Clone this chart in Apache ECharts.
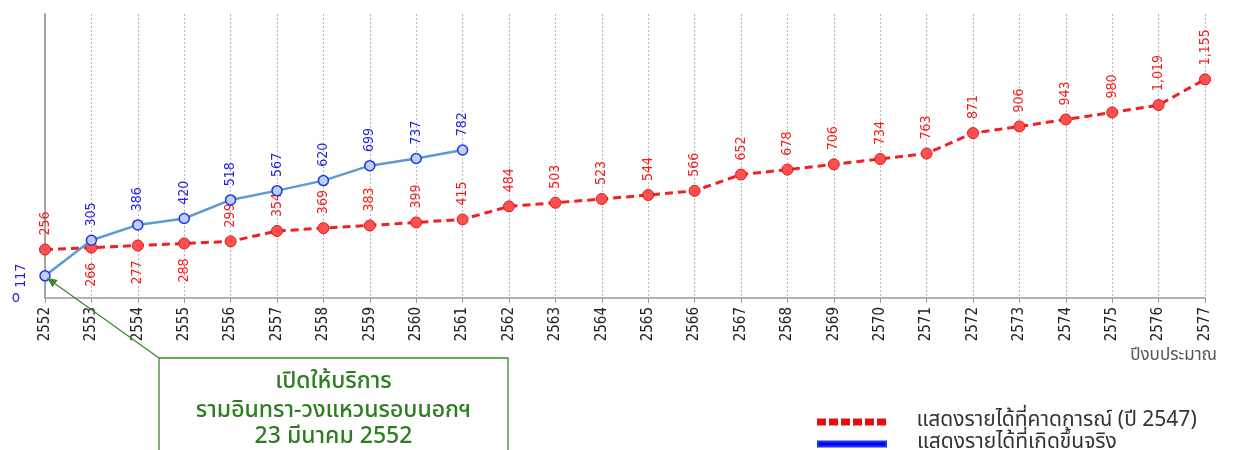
<!DOCTYPE html>
<html>
<head>
<meta charset="utf-8">
<script src="https://cdn.jsdelivr.net/npm/echarts@6/dist/echarts.min.js"></script>
<style>html,body{margin:0;padding:0;background:#fff}#c{width:1257px;height:450px}</style>
</head>
<body>
<div id="c"></div>
<script>
const years = ['2552','2553','2554','2555','2556','2557','2558','2559','2560','2561','2562','2563','2564','2565','2566','2567','2568','2569','2570','2571','2572','2573','2574','2575','2576','2577'];
const forecast = [256,266,277,288,299,354,369,383,399,415,484,503,523,544,566,652,678,706,734,763,871,906,943,980,1019,1155];
const actual = [117,305,386,420,518,567,620,699,737,782,null,null,null,null,null,null,null,null,null,null,null,null,null,null,null,null];
const forecastName = 'แสดงรายได้ที่คาดการณ์ (ปี 2547)';
const actualName = 'แสดงรายได้ที่เกิดขึ้นจริง';
const xAxisTitle = 'ปีงบประมาณ';
const noteLines = ['เปิดให้บริการ','รามอินทรา-วงแหวนรอบนอกฯ','23 มีนาคม 2552'];
const forecastLabelBelow = ['2553','2554','2555'];
const actualLabelLeft = ['2552'];

const NARROW = '"DejaVu Sans Condensed","Liberation Sans Narrow",sans-serif';
const THAI = '"Noto Sans Thai","Noto Sans","Tahoma",sans-serif';
const fmt = v => Number(v).toLocaleString('en-US');

const chart = echarts.init(document.getElementById('c'));

const redData = forecast.map((v, i) => {
  if (forecastLabelBelow.includes(years[i])) {
    return {value: v, label: {position: 'bottom', align: 'right', distance: 13}};
  }
  return v;
});
const blueData = actual.map((v, i) => {
  if (v != null && actualLabelLeft.includes(years[i])) {
    return {value: v, label: {position: 'left', align: 'center', verticalAlign: 'middle', distance: 18, offset: [0, 0]}};
  }
  return v;
});

const redDash = 'path://M0,0h7v5h-7z M12,0h7v5h-7z M24,0h7v5h-7z M36,0h7v5h-7z M48,0h7v5h-7z M60,0h7v5h-7z';
const legendBase = {
  orient: 'vertical', left: 817, padding: 0,
  itemWidth: 68, itemHeight: 5, itemGap: 0,
  selectedMode: false,
  textStyle: {fontSize: 21, color: '#333', fontFamily: THAI, lineHeight: 22, padding: [0, 0, 0, 26]}
};

chart.setOption({
  animation: false,
  grid: {left: 45, right: 52, top: 14, bottom: 152, containLabel: false},
  xAxis: {
    type: 'category',
    data: years,
    boundaryGap: false,
    name: xAxisTitle,
    nameLocation: 'end',
    nameGap: 12,
    nameTextStyle: {color: '#555', fontSize: 17, fontFamily: THAI, align: 'right', verticalAlign: 'top', padding: [50, 0, 0, 0]},
    axisLine: {lineStyle: {color: '#9a9a9a', width: 1.5}},
    axisTick: {show: true, length: 5, lineStyle: {color: '#9a9a9a'}},
    axisLabel: {rotate: 90, margin: 9, color: '#222', fontSize: 15, fontFamily: NARROW},
    splitLine: {show: true, lineStyle: {color: '#b5b5b5', type: [2, 2], width: 1}}
  },
  yAxis: {
    type: 'value',
    min: 0, max: 1500, interval: 1500,
    axisLine: {show: true, lineStyle: {color: '#8a8a8a', width: 1.5}},
    axisTick: {show: false},
    splitLine: {show: false},
    axisLabel: {formatter: v => v === 0 ? 'o' : '', color: '#2222dd', fontSize: 15, margin: 25, fontFamily: NARROW}
  },
  legend: [
    Object.assign({}, legendBase, {top: 411, data: [{name: forecastName, icon: redDash, itemStyle: {color: '#ff0000'}}]}),
    Object.assign({}, legendBase, {top: 433, data: [{name: actualName, icon: 'rect', itemStyle: {color: '#0000ff'}}]})
  ],
  series: [
    {
      name: forecastName,
      type: 'line',
      data: redData,
      symbol: 'circle', symbolSize: 11,
      lineStyle: {color: '#ee2222', width: 3, type: [8, 5]},
      itemStyle: {color: '#ff5050', borderColor: '#dd1515', borderWidth: 1},
      label: {show: true, position: 'top', rotate: 90, align: 'left', verticalAlign: 'middle', distance: 4, offset: [4, 0],
        color: '#ee1c1c', fontSize: 14, fontFamily: NARROW, formatter: p => fmt(p.value)},
      z: 3
    },
    {
      name: actualName,
      type: 'line',
      data: blueData,
      symbol: 'circle', symbolSize: 10,
      connectNulls: false,
      lineStyle: {color: '#5b9bd5', width: 2.5},
      itemStyle: {color: '#bcd0f2', borderColor: '#2233ee', borderWidth: 1.5},
      label: {show: true, position: 'top', rotate: 90, align: 'left', verticalAlign: 'middle', distance: 4, offset: [4, 0],
        color: '#2222dd', fontSize: 14, fontFamily: NARROW, formatter: p => fmt(p.value)},
      z: 4
    }
  ]
});

// annotation pointing at the first actual value
const tgt = chart.convertToPixel({xAxisIndex: 0, yAxisIndex: 0}, [years[0], actual[0]]);
const boxL = 159, boxT = 358, boxR = 508;
const ang = Math.atan2(tgt[1] - boxT, tgt[0] - boxL);
const tip = [tgt[0] + 2, tgt[1] + 2];
const ah = 10, aw = 4.5;
const bx = tip[0] - ah * Math.cos(ang), by = tip[1] - ah * Math.sin(ang);
const px = -Math.sin(ang) * aw, py = Math.cos(ang) * aw;
const green = '#3a8a2c';
const noteFont = '500 23px ' + THAI;
chart.setOption({
  graphic: [
    {type: 'line', shape: {x1: boxL, y1: boxT, x2: bx, y2: by}, style: {stroke: green, lineWidth: 1.3}, z: 10},
    {type: 'polygon', shape: {points: [tip, [bx + px, by + py], [bx - px, by - py]]}, style: {fill: green}, z: 10},
    {type: 'rect', shape: {x: boxL, y: boxT, width: boxR - boxL, height: 120}, style: {fill: '#fff', stroke: green, lineWidth: 1.3}, z: 10},
    {type: 'text', x: (boxL + boxR) / 2, y: 383, style: {text: noteLines[0], fill: '#2e7d22', font: noteFont, align: 'center', verticalAlign: 'middle'}, z: 11},
    {type: 'text', x: (boxL + boxR) / 2, y: 412, style: {text: noteLines[1], fill: '#2e7d22', font: noteFont, align: 'center', verticalAlign: 'middle'}, z: 11},
    {type: 'text', x: (boxL + boxR) / 2, y: 438, style: {text: noteLines[2], fill: '#2e7d22', font: noteFont, align: 'center', verticalAlign: 'middle'}, z: 11}
  ]
});
</script>
</body>
</html>
